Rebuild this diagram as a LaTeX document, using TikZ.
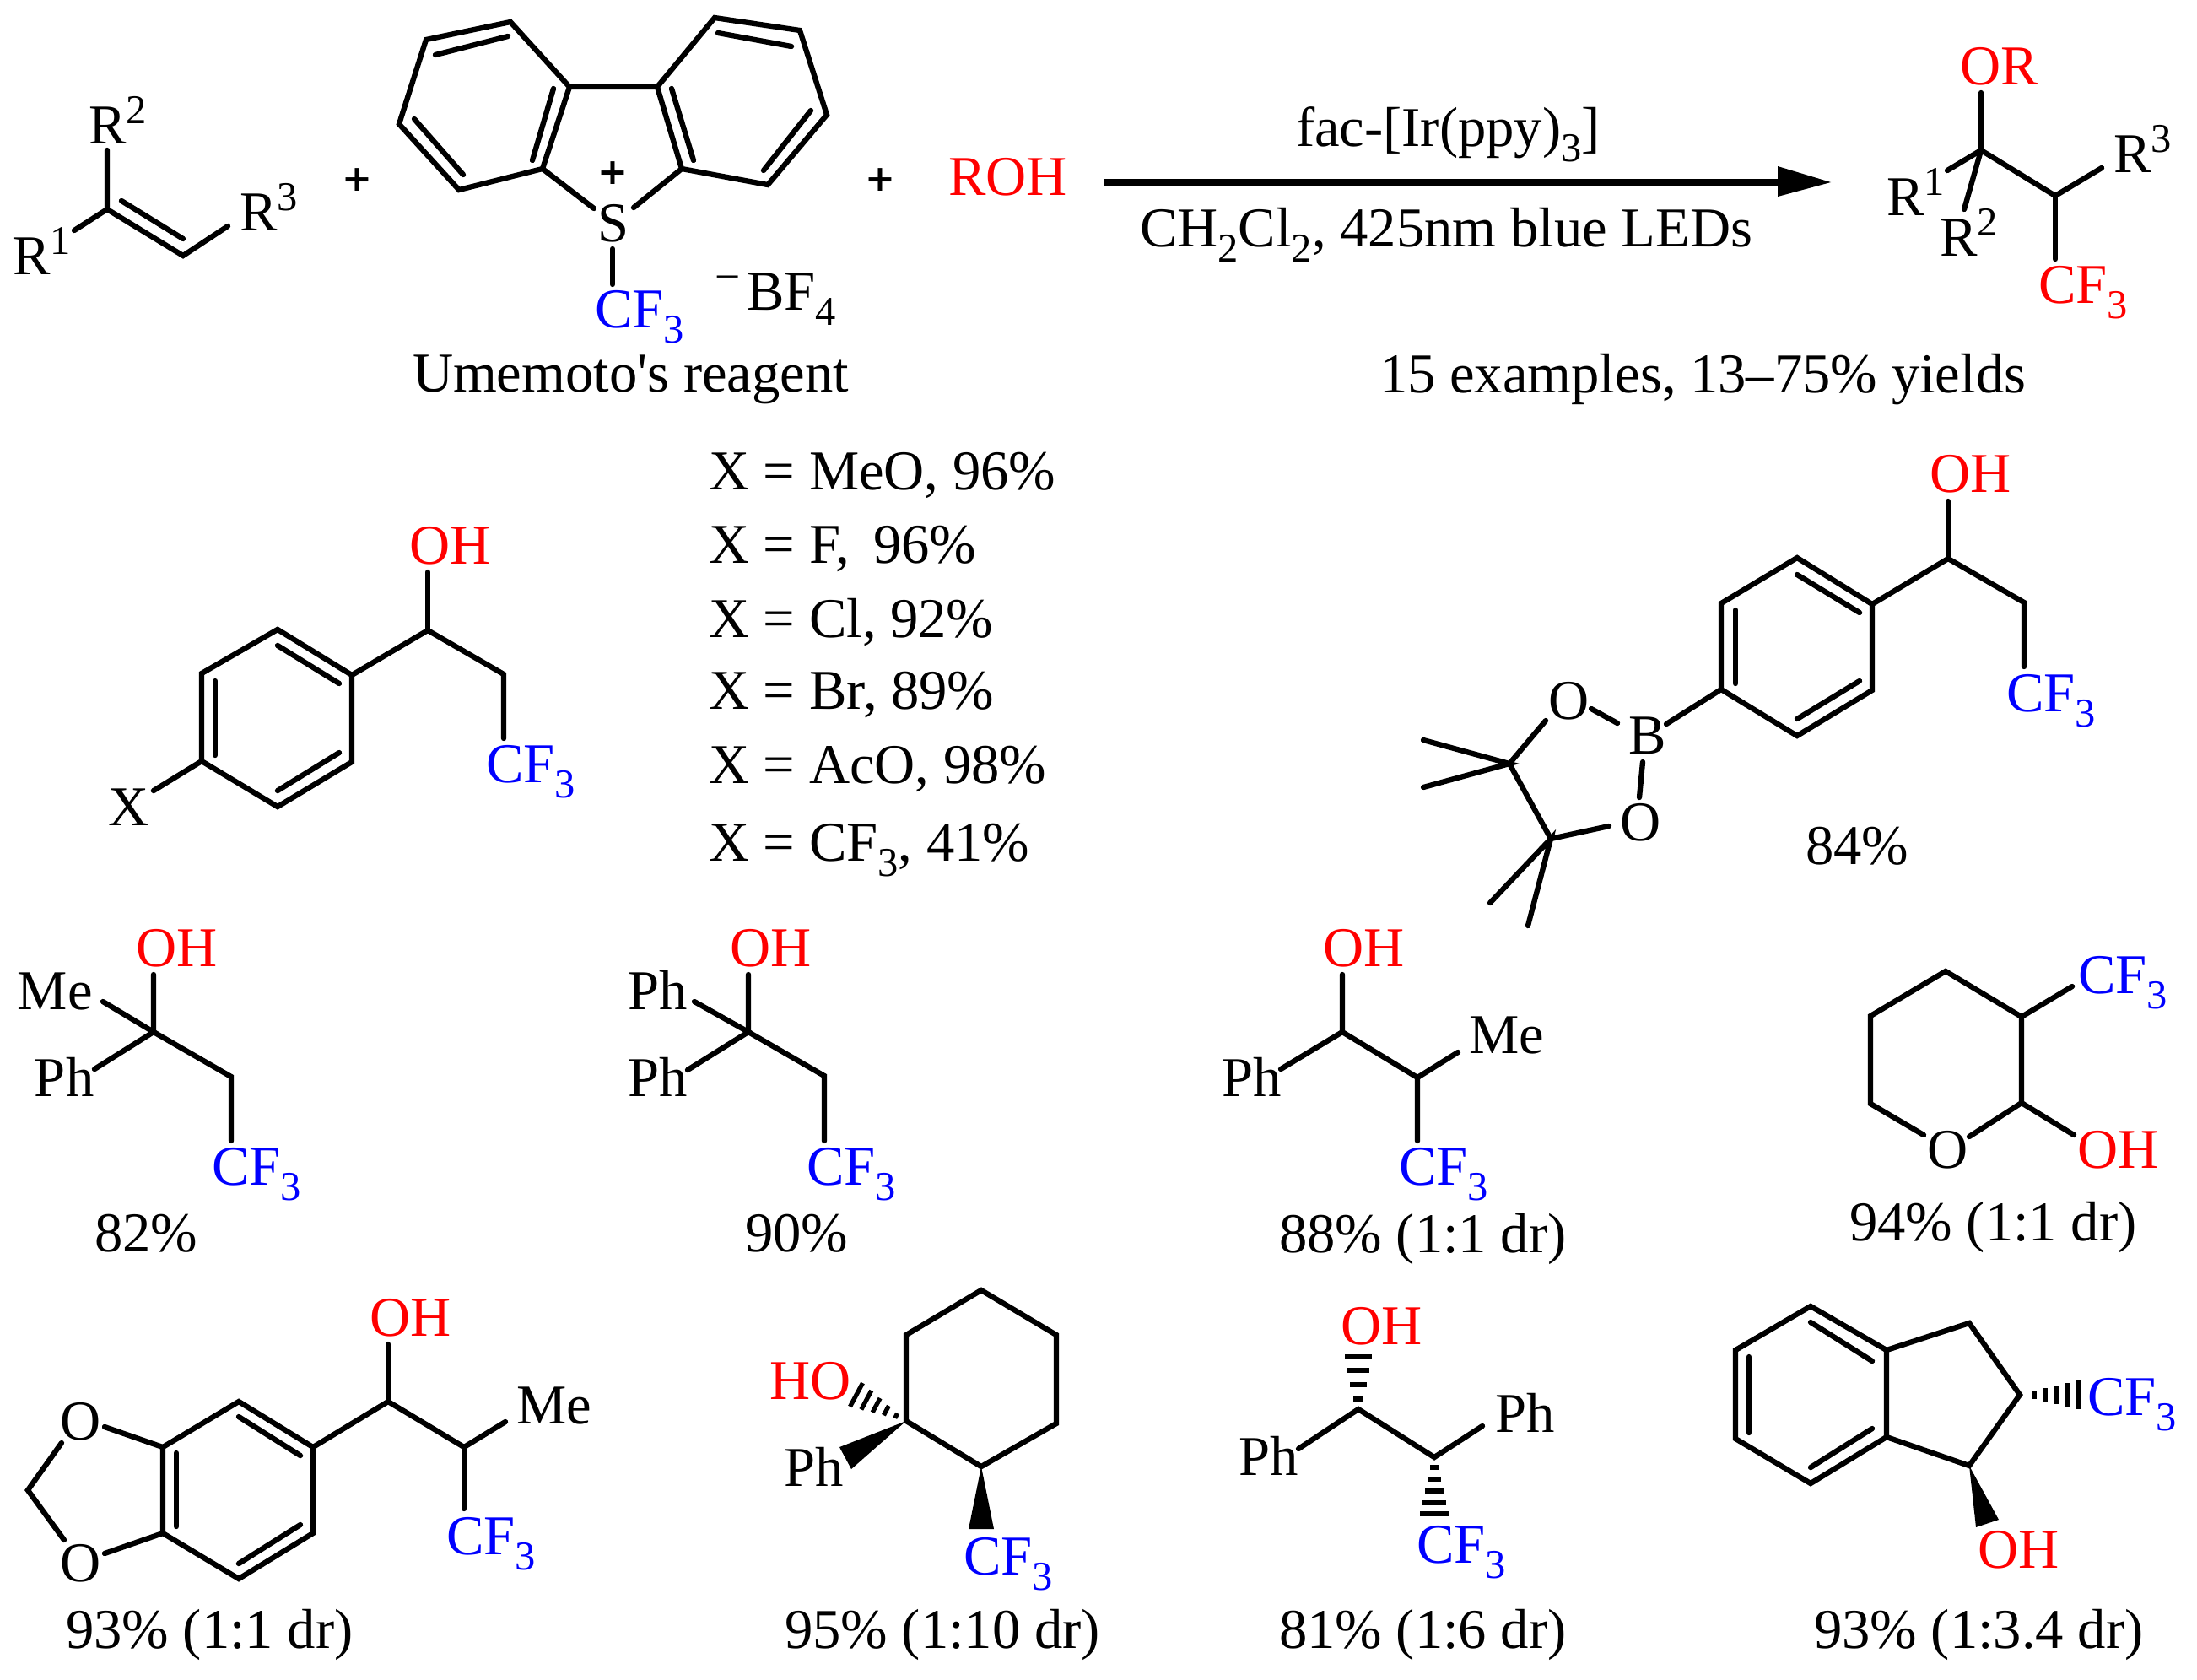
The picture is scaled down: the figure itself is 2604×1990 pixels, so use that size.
\documentclass[tikz,border=0pt]{standalone}
\usepackage{fontspec}
\newfontfamily\chemfont{Liberation Serif}
\newfontfamily\plusfont{DejaVu Sans}[BoldFont={DejaVu Sans Bold}]
\usetikzlibrary{calc}
\definecolor{cfblue}{RGB}{0,0,255}
\definecolor{ohred}{RGB}{255,0,0}
\newcommand\su[1]{\raisebox{-.27em}{\fontsize{13.8}{14}\selectfont #1}}
\newcommand\sps[1]{\raisebox{.36em}{\fontsize{13.8}{14}\selectfont #1}}
\newcommand\cft{CF\su{3}}
\tikzset{
  txt/.style={anchor=base west,inner sep=0pt,outer sep=0pt,font=\fontsize{18.95}{22}\selectfont\chemfont},
  redt/.style={txt,text=ohred},
  bluet/.style={txt,text=cfblue},
  plussign/.style={anchor=center,inner sep=0pt,font=\fontsize{12.2}{14}\selectfont\plusfont\bfseries},
  bond/.style={draw=black,line width=1.8pt,line cap=round,line join=miter},
  hash/.style={draw=black,line width=1.5pt},
  wedge/.style={fill=black,draw=none}
}
\begin{document}
\begin{tikzpicture}[x=0.01cm,y=-0.01cm]
\useasboundingbox (0,0) rectangle (2604,1990);
% --- alkene
\draw[bond] (127,178) -- (127,248) -- (217,303) -- (270,268);
\draw[bond] (127,248) -- (88,273);
\draw[bond] (144,238) -- (217,283);
\node[txt] (r2a) at (105,170) {R\sps{2}};
\node[txt] (r1a) at (15,325) {R\sps{1}};
\node[txt] (r3a) at (284,273) {R\sps{3}};
\node[plussign] (plus1) at (423,213) {+};
% --- Umemoto
\draw[bond] (675,103) -- (605,26) -- (505,47) -- (473,147) -- (544,225) -- (643,200) -- (675,103) -- (779,103) -- (847,21) -- (948,36) -- (980,136) -- (910,219) -- (808,200) -- (779,103);
\draw[bond] (516,65) -- (602,43);
\draw[bond] (491,141) -- (549,207);
\draw[bond] (656,105) -- (631,190);
\draw[bond] (851,39) -- (938,55);
\draw[bond] (961,131) -- (905,202);
\draw[bond] (796,105) -- (822,190);
\draw[bond] (643,200) -- (704,247);
\draw[bond] (808,200) -- (751,246);
\draw[bond] (726,295) -- (726,337);
\node[txt] (su) at (708,286) {S};
\node[plussign] (splus) at (726,205) {+};
\node[bluet] (cfu) at (705,388) {\cft};
\node[txt] (bfm) at (850,339) {\fontsize{13.8}{14}\selectfont –};
\node[txt] (bf) at (885,367) {BF\su{4}};
\node[txt] (ume) at (489,464) {Umemoto's reagent};
\node[plussign] (plus2) at (1043,213) {+};
\node[redt] (roh) at (1124,231) {ROH};
% --- arrow
\coordinate (arrA) at (1309,216);
\coordinate (arrB) at (2107,216);
\coordinate (arrT) at (2170,216);
\draw[draw=black,line width=2pt] (arrA) -- (arrB);
\fill[black] (arrT) -- (2107,197) -- (2107,233) -- cycle;
\node[txt] (cat) at (1536,173) {fac-[Ir(ppy)\su{3}]};
\node[txt] (cond) at (1351,292) {CH\su{2}Cl\su{2}, 425nm blue LEDs};
% --- product
\draw[bond] (2348,110) -- (2348,178) -- (2436,232) -- (2491,199);
\draw[bond] (2436,232) -- (2436,307);
\draw[bond] (2348,178) -- (2308,202);
\draw[bond] (2348,178) -- (2328,248);
\node[redt] (orp) at (2323,100) {OR};
\node[txt] (r1p) at (2236,255) {R\sps{1}};
\node[txt] (r2p) at (2299,303) {R\sps{2}};
\node[txt] (r3p) at (2505,204) {R\sps{3}};
\node[redt] (cfp) at (2416,359) {\cft};
\node[txt] (ex) at (1635,465) {15 examples, 13–75\% yields};
% --- X series
\draw[bond] (329,746) -- (417,800) -- (417,903) -- (329,956) -- (239,902) -- (239,798) -- cycle;
\draw[bond] (329,765) -- (402,810);
\draw[bond] (255,807) -- (255,895);
\draw[bond] (329,937) -- (402,892);
\draw[bond] (417,800) -- (507,747) -- (597,799) -- (597,875);
\draw[bond] (507,747) -- (507,678);
\draw[bond] (239,902) -- (182,937);
\node[redt] (ohx) at (485,668) {OH};
\node[bluet] (cfx) at (576,927) {\cft};
\node[txt] (xx) at (128,978) {X};
\node[txt] (l1) at (840,580) {X = MeO, 96\%};
\node[txt] (l2) at (840,667) {X = F,\, 96\%};
\node[txt] (l3) at (840,755) {X = Cl, 92\%};
\node[txt] (l4) at (840,840) {X = Br, 89\%};
\node[txt] (l5) at (840,928) {X = AcO, 98\%};
\node[txt] (l6) at (840,1020) {X = \cft, 41\%};
% --- boronate
\draw[bond] (2130,661) -- (2219,716) -- (2219,818) -- (2130,872) -- (2040,817) -- (2040,715) -- cycle;
\draw[bond] (2130,681) -- (2204,726);
\draw[bond] (2057,723) -- (2057,810);
\draw[bond] (2130,852) -- (2204,807);
\draw[bond] (2219,716) -- (2309,662) -- (2399,714) -- (2399,790);
\draw[bond] (2309,662) -- (2309,594);
\draw[bond] (2040,817) -- (1975,858);
\draw[bond] (1886,840) -- (1917,857);
\draw[bond] (1947,903) -- (1943,945);
\draw[bond] (1832,854) -- (1789,905) -- (1838,994) -- (1907,979);
\draw[bond] (1687,877) -- (1789,905) -- (1687,933);
\draw[bond] (1766,1070) -- (1838,994) -- (1811,1097);
\node[redt] (ohb) at (2287,583) {OH};
\node[bluet] (cfb) at (2378,843) {\cft};
\node[txt] (bb) at (1930,893) {B};
\node[txt] (ob1) at (1835,852) {O};
\node[txt] (ob2) at (1920,996) {O};
\node[txt] (y84) at (2140,1024) {84\%};
% --- A
\draw[bond] (182,1155) -- (182,1223) -- (274,1276) -- (274,1352);
\draw[bond] (122,1187) -- (182,1223) -- (112,1267);
\node[redt] (oha) at (161,1145) {OH};
\node[txt] (mea) at (21,1196) {Me};
\node[txt] (pha) at (41,1299) {Ph};
\node[bluet] (cfa) at (251,1404) {\cft};
\node[txt] (y82) at (112,1483) {82\%};
% --- B
\draw[bond] (887,1155) -- (887,1223) -- (977,1275) -- (977,1352);
\draw[bond] (823,1187) -- (887,1223) -- (815,1268);
\node[redt] (ohbb) at (865,1145) {OH};
\node[txt] (phb1) at (744,1196) {Ph};
\node[txt] (phb2) at (744,1299) {Ph};
\node[bluet] (cfbb) at (956,1404) {\cft};
\node[txt] (y90) at (883,1483) {90\%};
% --- C
\draw[bond] (1591,1155) -- (1591,1223) -- (1680,1277) -- (1680,1352);
\draw[bond] (1518,1267) -- (1591,1223);
\draw[bond] (1680,1277) -- (1728,1247);
\node[redt] (ohc) at (1568,1145) {OH};
\node[txt] (phc) at (1448,1299) {Ph};
\node[txt] (mec) at (1741,1248) {Me};
\node[bluet] (cfc) at (1658,1404) {\cft};
\node[txt] (y88) at (1516,1484) {88\% (1:1 dr)};
% --- D
\draw[bond] (2280,1345) -- (2217,1308) -- (2217,1204) -- (2306,1151) -- (2396,1205) -- (2396,1307) -- (2334,1347);
\draw[bond] (2396,1307) -- (2458,1345);
\draw[bond] (2396,1205) -- (2456,1169);
\node[txt] (od) at (2284,1384) {O};
\node[redt] (ohd) at (2462,1384) {OH};
\node[bluet] (cfd) at (2463,1177) {\cft};
\node[txt] (y94) at (2192,1470) {94\% (1:1 dr)};
% --- E
\draw[bond] (283,1661) -- (371,1715) -- (371,1817) -- (283,1871) -- (193,1817) -- (193,1715) -- cycle;
\draw[bond] (283,1679) -- (356,1725);
\draw[bond] (209,1722) -- (209,1809);
\draw[bond] (283,1853) -- (356,1807);
\draw[bond] (371,1715) -- (460,1661) -- (550,1715) -- (599,1685);
\draw[bond] (460,1661) -- (460,1593);
\draw[bond] (550,1715) -- (550,1788);
\draw[bond] (193,1715) -- (124,1691);
\draw[bond] (193,1817) -- (124,1841);
\draw[bond] (73,1710) -- (33,1766) -- (76,1825);
\node[redt] (ohe) at (438,1583) {OH};
\node[txt] (mee) at (612,1687) {Me};
\node[bluet] (cfe) at (529,1842) {\cft};
\node[txt] (oe1) at (71,1706) {O};
\node[txt] (oe2) at (71,1874) {O};
\node[txt] (y93a) at (78,1953) {93\% (1:1 dr)};
% --- F
\draw[bond] (1163,1529) -- (1252,1582) -- (1252,1687) -- (1163,1738) -- (1074,1684) -- (1074,1582) -- cycle;
\foreach \t in {.2,.4,.6,.8,1}{
  \draw[hash] ({1074-59*\t+7.5*\t},{1684-31*\t-14*\t}) -- ({1074-59*\t-7.5*\t},{1684-31*\t+14*\t});
}
\fill[wedge] (1074,1684) -- (995,1715) -- (1009,1741) -- cycle;
\fill[wedge] (1163,1738) -- (1148,1812) -- (1178,1812) -- cycle;
\node[redt] (hof) at (912,1658) {HO};
\node[txt] (phf) at (929,1761) {Ph};
\node[bluet] (cff) at (1142,1866) {\cft};
\node[txt] (y95) at (930,1953) {95\% (1:10 dr)};
% --- G
\draw[bond] (1539,1717) -- (1610,1670) -- (1700,1727) -- (1757,1690);
\foreach \yy/\w in {1608/16,1624/13,1641/10,1658/6,1739/5,1753/8,1767/11,1781/14,1794/17}{
  \pgfmathsetmacro\xc{\yy<1700?1610:1700}
  \draw[draw=black,line width=1.8pt] ({\xc-\w},\yy) -- ({\xc+\w},\yy);
}
\node[redt] (ohg) at (1589,1593) {OH};
\node[txt] (phg1) at (1468,1748) {Ph};
\node[txt] (phg2) at (1772,1697) {Ph};
\node[bluet] (cfg) at (1679,1852) {\cft};
\node[txt] (y81) at (1516,1953) {81\% (1:6 dr)};
% --- H
\draw[bond] (2146,1548) -- (2236,1600) -- (2236,1703) -- (2146,1758) -- (2057,1705) -- (2057,1600) -- cycle;
\draw[bond] (2146,1567) -- (2219,1613);
\draw[bond] (2073,1608) -- (2073,1698);
\draw[bond] (2146,1739) -- (2219,1693);
\draw[bond] (2236,1600) -- (2334,1568) -- (2394,1653) -- (2334,1737) -- (2236,1703);
\foreach \x/\w in {2411/5,2424/8,2437/11,2450/14,2463/17}{
  \draw[hash] (\x,{1653-\w}) -- (\x,{1653+\w});
}
\fill[wedge] (2334,1737) -- (2342,1810) -- (2369,1801) -- cycle;
\node[bluet] (cfh) at (2474,1677) {\cft};
\node[redt] (ohh) at (2344,1858) {OH};
\node[txt] (y93b) at (2150,1953) {93\% (1:3.4 dr)};
\end{tikzpicture}
\end{document}
